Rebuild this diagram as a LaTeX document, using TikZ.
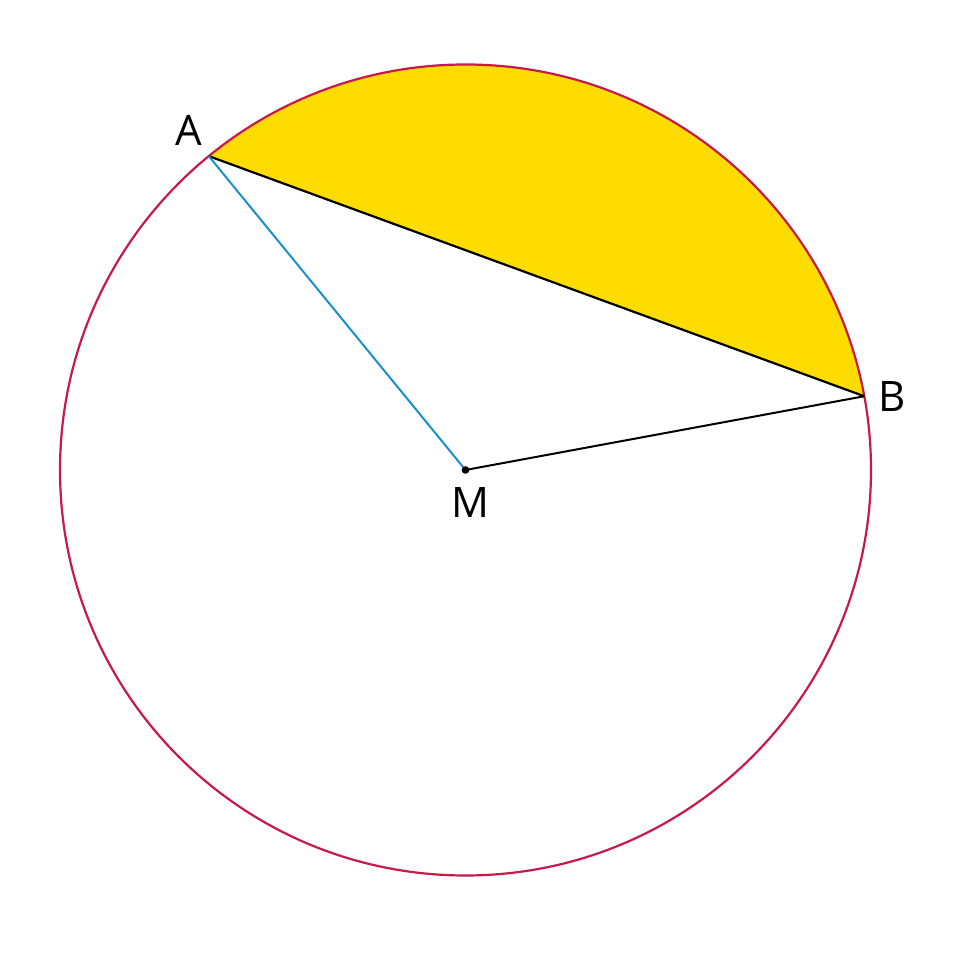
\documentclass[tikz,border=0pt]{standalone}
\usepackage{fontspec}
\setmainfont{Open Sans}
\usetikzlibrary{calc}
\definecolor{circ}{HTML}{C8194B}
\definecolor{seg}{HTML}{FFDC00}
\definecolor{rad}{HTML}{1A8FD0}
\tikzset{lbl/.style={font=\fontsize{42}{42}\selectfont, text=black, inner sep=0pt}}
\begin{document}
\begin{tikzpicture}[x=1pt,y=1pt]
\useasboundingbox (0,0) rectangle (968,952);
\coordinate (M) at (465.5,482);
\coordinate (A) at ($(M)+(129.28:405.5)$);
\coordinate (B) at ($(M)+(10.48:405.5)$);
\fill[seg] (A) arc[start angle=129.28, end angle=10.48, radius=405.5] -- cycle;
\draw[circ, line width=2.2pt] (M) circle[radius=405.5];
\draw[black, line width=2.2pt] (A) -- (B);
\draw[black, line width=2pt] (M) -- (B);
\draw[rad, line width=2pt] (M) -- (A);
\fill[black] (M) circle[radius=3.8];
\node[lbl] (la) at (189,822) {A};
\node[lbl] (lb) at (892,555) {B};
\node[lbl] (lm) at (470,449) {M};
\end{tikzpicture}
\end{document}
